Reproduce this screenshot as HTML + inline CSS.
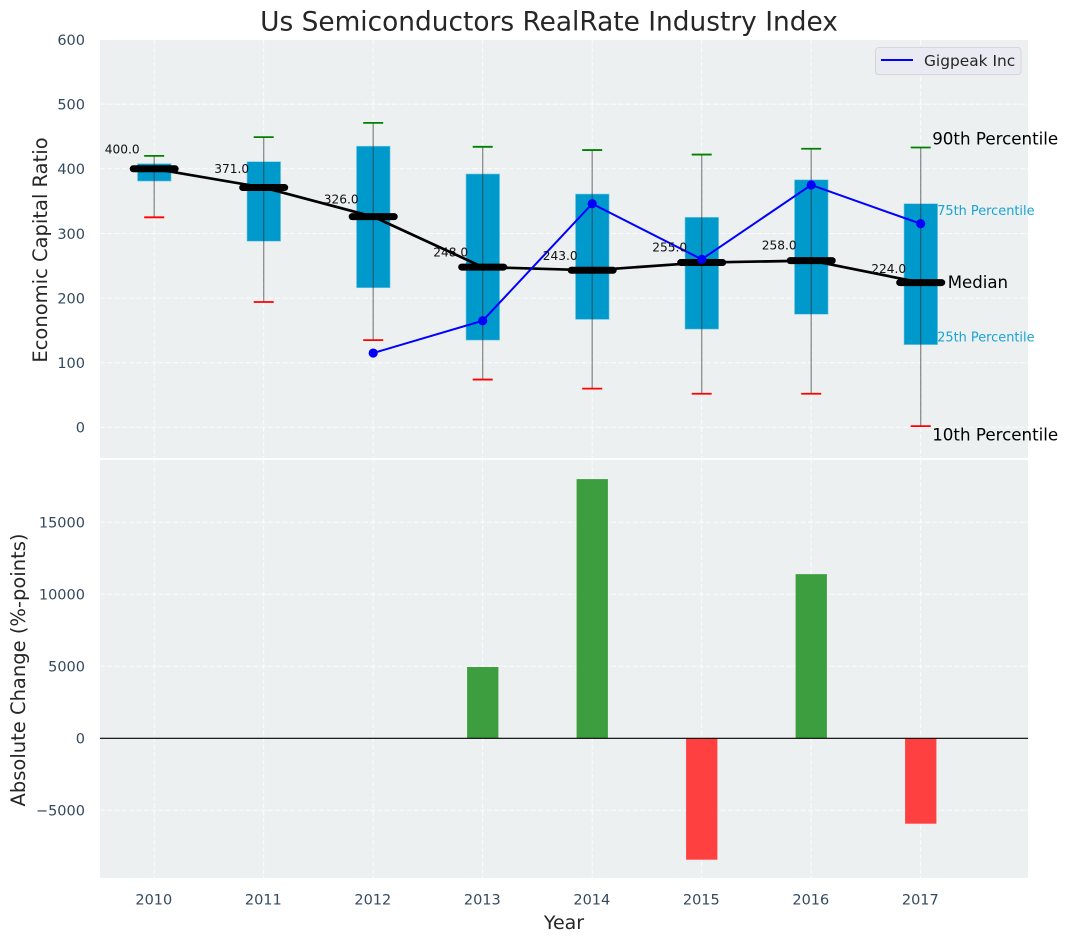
<!DOCTYPE html>
<html lang="en">
<head>
<meta charset="utf-8">
<title>Us Semiconductors RealRate Industry Index</title>
<style>
html,body{margin:0;padding:0;background:#fff;width:1067px;height:942px;overflow:hidden}
svg{display:block;font-family:"DejaVu Sans","Liberation Sans",sans-serif}
</style>
</head>
<body>
<svg id="chart" xmlns="http://www.w3.org/2000/svg" width="1067" height="942" viewBox="0 0 1067 942">
  <rect x="100" y="40" width="928" height="418" fill="#ecf0f1"/>
  <rect x="100" y="460" width="928" height="418" fill="#ecf0f1"/>
  <g id="grid"></g>
  <g id="boxes"></g>
  <g id="bars"></g>
  <g id="lines"></g>
  <g id="ticks" font-size="14.5" fill="#34495e"></g>
  <g id="notes"></g>
  <text x="549" y="30.5" text-anchor="middle" font-size="26.4" fill="#262626">Us Semiconductors RealRate Industry Index</text>
  <text transform="translate(47,250) rotate(-90)" text-anchor="middle" font-size="19.5" fill="#262626">Economic Capital Ratio</text>
  <text transform="translate(25,670) rotate(-90)" text-anchor="middle" font-size="19.5" fill="#262626">Absolute Change (%-points)</text>
  <text x="564" y="929" text-anchor="middle" font-size="19" fill="#262626">Year</text>
  <g>
    <rect x="875.5" y="47.5" width="145.5" height="27" rx="3" fill="#eaeaf2" stroke="#d6d6d8"/>
    <line x1="881" x2="913" y1="60" y2="60" stroke="#0000ff" stroke-width="2"/>
    <text x="924" y="66" font-size="15.4" fill="#262626">Gigpeak Inc</text>
  </g>
</svg>
<script>
var years = [2010, 2011, 2012, 2013, 2014, 2015, 2016, 2017];
var p90 = [420, 449, 471, 434, 429, 422, 431, 433];
var p75 = [408, 411, 435, 392, 361, 325, 383, 346];
var median = [400, 371, 326, 248, 243, 255, 258, 224];
var p25 = [381, 288, 216, 135, 167, 152, 175, 128];
var p10 = [325, 194, 135, 74, 60, 52, 52, 2];
var gigpeak = [null, null, 115, 165, 346, 260, 375, 315];
var absoluteChange = [0, 0, 0, 4950, 18000, -8430, 11400, -5930];
var topTicks = [0, 100, 200, 300, 400, 500, 600];
var bottomTicks = [-5000, 0, 5000, 10000, 15000];

var NS = 'http://www.w3.org/2000/svg';
var DASH = '5.1 2.2';
function x(year) { return 154.2 + 109.5 * (year - 2010); }
function yTop(v) { return 427.4 - 0.6465 * v; }
function yBottom(v) { return 738.3 - 0.0144 * v; }
function make(tag, parentId, props) {
  var el = document.createElementNS(NS, tag);
  for (var k in props) { el.setAttribute(k, props[k]); }
  document.getElementById(parentId).appendChild(el);
  return el;
}
function label(n) { return String(n).replace('-', '\u2212'); }

years.forEach(function (yr) {
  var el = make('line', 'grid', { x1: x(yr), x2: x(yr), y1: 40, y2: 458, stroke: '#fff', 'stroke-width': 1, 'stroke-dasharray': DASH, opacity: 0.85 });
  
  
  var el2 = make('line', 'grid', { x1: x(yr), x2: x(yr), y1: 460, y2: 878, stroke: '#fff', 'stroke-width': 1, 'stroke-dasharray': DASH, opacity: 0.85 });
  
  
  var t = make('text', 'ticks', { x: x(yr) - 0.4, y: 904.5, 'text-anchor': 'middle' });
  t.textContent = yr;
  
  
});
topTicks.forEach(function (v) {
  var el = make('line', 'grid', { x1: 100, x2: 1028, y1: yTop(v), y2: yTop(v), stroke: '#fff', 'stroke-width': 1, 'stroke-dasharray': DASH, opacity: 0.85 });
  
  
  var t = make('text', 'ticks', { x: 85, y: yTop(v) + 5.3, 'text-anchor': 'end' });
  t.textContent = label(v);
  
  
});
bottomTicks.forEach(function (v) {
  var el = make('line', 'grid', { x1: 100, x2: 1028, y1: yBottom(v), y2: yBottom(v), stroke: '#fff', 'stroke-width': 1, 'stroke-dasharray': DASH, opacity: 0.85 });
  
  
  var t = make('text', 'ticks', { x: 85, y: yBottom(v) + 5.3, 'text-anchor': 'end' });
  t.textContent = label(v);
  
  
});

years.forEach(function (yr, i) {
  var cx = x(yr);
  var box = make('rect', 'boxes', { x: cx - 16.7, y: yTop(p75[i]), width: 33.6, height: yTop(p25[i]) - yTop(p75[i]), fill: '#0099cc', stroke: '#7fcce5', 'stroke-width': 0.6 });
  
  
  var whisker = make('line', 'boxes', { x1: cx, x2: cx, y1: yTop(p90[i]), y2: yTop(p10[i]), stroke: '#333', 'stroke-opacity': 0.55, 'stroke-width': 1.3 });
  
  
  var capHi = make('line', 'boxes', { x1: cx - 10, x2: cx + 10, y1: yTop(p90[i]), y2: yTop(p90[i]), stroke: '#008000', 'stroke-width': 1.8 });
  
  
  var capLo = make('line', 'boxes', { x1: cx - 10, x2: cx + 10, y1: yTop(p10[i]), y2: yTop(p10[i]), stroke: '#ff0000', 'stroke-width': 1.8 });
  
  

  var v = absoluteChange[i];
  if (v !== 0) {
    var bar = make('rect', 'bars', { x: cx - 15.6, y: Math.min(yBottom(v), yBottom(0)), width: 31.3, height: Math.abs(yBottom(v) - yBottom(0)), fill: v > 0 ? '#3c9e3e' : '#ff4040' });
    
    
  }
});

var zero = make('line', 'lines', { x1: 100, x2: 1028, y1: yBottom(0), y2: yBottom(0), stroke: '#000', 'stroke-width': 1.1 });



var medianPath = make('polyline', 'lines', { points: years.map(function (yr, i) { return x(yr) + ',' + yTop(median[i]); }).join(' '), fill: 'none', stroke: '#000', 'stroke-width': 2.7 });



years.forEach(function (yr, i) {
  var m = make('line', 'lines', { x1: x(yr) - 21, x2: x(yr) + 21, y1: yTop(median[i]), y2: yTop(median[i]), stroke: '#000', 'stroke-width': 7, 'stroke-linecap': 'round' });
  
  
  var t = make('text', 'notes', { x: x(yr) - 49.5, y: yTop(median[i] * 1.05 + 10) + 3.9, 'font-size': 12.2, fill: '#111' });
  t.textContent = median[i].toFixed(1);
  
  
});

var gigPts = [];
years.forEach(function (yr, i) {
  if (gigpeak[i] !== null) { gigPts.push(x(yr) + ',' + yTop(gigpeak[i])); }
});
var gigLine = make('polyline', 'lines', { points: gigPts.join(' '), fill: 'none', stroke: '#0000ff', 'stroke-width': 2 });


years.forEach(function (yr, i) {
  if (gigpeak[i] === null) { return; }
  var dot = make('circle', 'lines', { cx: x(yr), cy: yTop(gigpeak[i]), r: 4.6, fill: '#0000ff' });
  
  
});

var last = years.length - 1;
var lx = x(years[last]);
var n90 = make('text', 'notes', { x: lx + 11.5, y: yTop(p90[last]) - 3, 'font-size': 16.7, fill: '#000' });
n90.textContent = '90th Percentile';


var n75 = make('text', 'notes', { x: lx + 16.5, y: yTop(p75[last]) + 11.5, 'font-size': 12.9, fill: '#1aa3d4' });
n75.textContent = '75th Percentile';


var nMed = make('text', 'notes', { x: lx + 27, y: yTop(median[last]) + 5.5, 'font-size': 16.6, fill: '#000' });
nMed.textContent = 'Median';


var n25 = make('text', 'notes', { x: lx + 16.5, y: yTop(p25[last]) - 3, 'font-size': 12.9, fill: '#1aa3d4' });
n25.textContent = '25th Percentile';


var n10 = make('text', 'notes', { x: lx + 11.5, y: yTop(p10[last]) + 14.5, 'font-size': 16.7, fill: '#000' });
n10.textContent = '10th Percentile';


</script>
</body>
</html>
